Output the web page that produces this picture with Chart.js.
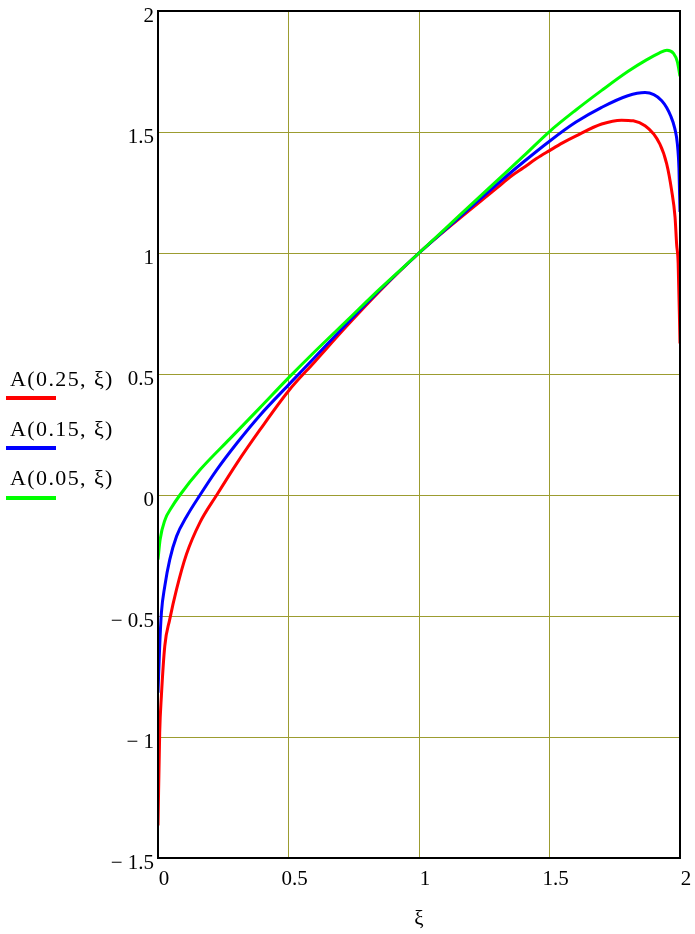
<!DOCTYPE html>
<html>
<head>
<meta charset="utf-8">
<script src="https://cdn.jsdelivr.net/npm/chart.js@4"></script>
<style>
    html, body { margin: 0; padding: 0; background: #fff; }
    #wrap { position: relative; width: 695px; height: 934px; }
    .legend-item { position: absolute; left: 0; font-family: 'Liberation Serif', serif; font-size: 22px; color: #000; letter-spacing: 1.4px; }
    .legend-item span { position: absolute; left: 10px; white-space: nowrap; }
    .legend-item i { position: absolute; left: 6px; width: 50px; height: 4px; }
</style>
</head>
<body>
<div id="wrap">
    <canvas id="chartA" width="695" height="934"></canvas>
    <div class="legend-item" style="top: 366px;"><span>A(0.25, ξ)</span><i style="top: 30px; background: #ff0000;"></i></div>
    <div class="legend-item" style="top: 416px;"><span>A(0.15, ξ)</span><i style="top: 30px; background: #0000ff;"></i></div>
    <div class="legend-item" style="top: 465px;"><span>A(0.05, ξ)</span><i style="top: 31px; background: #00ff00;"></i></div>
</div>
<script>
const xTicks = [0, 0.5, 1, 1.5, 2];
const yTicks = [-1.5, -1, -0.5, 0, 0.5, 1, 1.5, 2];

// A(0.25, ξ)
const xiRed = [0, 0.0065, 0.013, 0.026, 0.045, 0.071, 0.109, 0.16, 0.225, 0.302, 0.391, 0.5, 0.6, 0.725, 0.85, 1.0,
    1.15, 1.3, 1.35, 1.4, 1.45, 1.5, 1.55, 1.6, 1.7, 1.776, 1.866, 1.923, 1.949, 1.968, 1.981, 1.987, 1.993, 2.0];
const aRed = [-1.366, -0.981, -0.83, -0.624, -0.514, -0.39, -0.245, -0.115, 0.0, 0.131, 0.27, 0.43, 0.55, 0.70, 0.843, 1.0,
    1.138, 1.27, 1.315, 1.352, 1.39, 1.423, 1.455, 1.483, 1.533, 1.549, 1.526, 1.45, 1.368, 1.258, 1.148, 1.038, 0.956, 0.626];

// A(0.15, ξ)
const xiBlue = [0, 0.0065, 0.013, 0.026, 0.045, 0.071, 0.109, 0.161, 0.225, 0.302, 0.391, 0.5, 0.6, 0.725, 0.85, 1.0,
    1.15, 1.3, 1.4, 1.5, 1.6, 1.7, 1.8, 1.866, 1.93, 1.965, 1.98, 1.99, 1.996, 2.0];
const aBlue = [-0.817, -0.624, -0.487, -0.377, -0.267, -0.171, -0.09, 0.0, 0.104, 0.214, 0.33, 0.455, 0.568, 0.71, 0.847, 1.0,
    1.143, 1.285, 1.376, 1.462, 1.54, 1.602, 1.65, 1.663, 1.629, 1.565, 1.515, 1.45, 1.35, 1.17];

// A(0.05, ξ)
const xiGreen = [0, 0.008, 0.027, 0.05, 0.084, 0.161, 0.275, 0.39, 0.5, 0.6, 0.725, 0.85, 1.0,
    1.15, 1.3, 1.4, 1.5, 1.6, 1.7, 1.8, 1.87, 1.92, 1.95, 1.975, 1.99, 2.0];
const aGreen = [-0.267, -0.185, -0.102, -0.055, 0.0, 0.104, 0.232, 0.36, 0.484, 0.592, 0.722, 0.852, 1.0,
    1.15, 1.30, 1.40, 1.502, 1.59, 1.672, 1.75, 1.797, 1.826, 1.838, 1.825, 1.79, 1.73];

const gridColor = '#9c9c30';
const font = { family: "'Liberation Serif', 'Times New Roman', serif", size: 21 };

function toPoints(xs, ys) {
    return xs.map((x, i) => ({ x, y: ys[i] }));
}

function fmt(v) {
    if (v < 0) return '\u2212 ' + Math.abs(v);
    return String(v);
}

const frame = {
    id: 'frame',
    afterDatasetsDraw(chart) {
        const { ctx, chartArea: a } = chart;
        ctx.save();
        ctx.strokeStyle = '#000';
        ctx.lineWidth = 2;
        ctx.strokeRect(a.left, a.top, a.right - a.left, a.bottom - a.top);
        ctx.restore();
    },
};

const line = (data, color) => ({
    data,
    borderColor: color,
    backgroundColor: color,
    borderWidth: 3,
    pointRadius: 0,
    showLine: true,
    cubicInterpolationMode: 'monotone',
});

new Chart(document.getElementById('chartA'), {
    type: 'scatter',
    data: {
        datasets: [
            line(toPoints(xiGreen, aGreen), '#00ff00'),
            line(toPoints(xiBlue, aBlue), '#0000ff'),
            line(toPoints(xiRed, aRed), '#ff0000'),
        ],
    },
    options: {
        responsive: false,
        animation: false,
        layout: { padding: { left: 0, right: 15, top: 11, bottom: 0 } },
        plugins: { legend: { display: false }, tooltip: { enabled: false } },
        scales: {
            x: {
                type: 'linear',
                min: 0,
                max: 2,
                afterBuildTicks: s => { s.ticks = xTicks.map(v => ({ value: v })); },
                afterFit: s => { s.height = 76; s.paddingLeft = 0; s.paddingRight = 0; },
                ticks: { color: '#000', font, padding: 9, labelOffset: 6, maxRotation: 0, callback: fmt },
                grid: { color: gridColor, lineWidth: 1, drawTicks: false },
                border: { color: '#000', width: 2 },
                title: { display: true, text: 'ξ', color: '#000', font, padding: { top: 0, bottom: 2 } },
            },
            y: {
                type: 'linear',
                min: -1.5,
                max: 2,
                afterBuildTicks: s => { s.ticks = yTicks.map(v => ({ value: v })); },
                afterFit: s => { s.width = 158; s.paddingTop = 0; s.paddingBottom = 0; },
                ticks: { color: '#000', font, padding: 4, labelOffset: 5, callback: fmt },
                grid: { color: gridColor, lineWidth: 1, drawTicks: false },
                border: { color: '#000', width: 2 },
            },
        },
    },
    plugins: [frame],
});
</script>
</body>
</html>
